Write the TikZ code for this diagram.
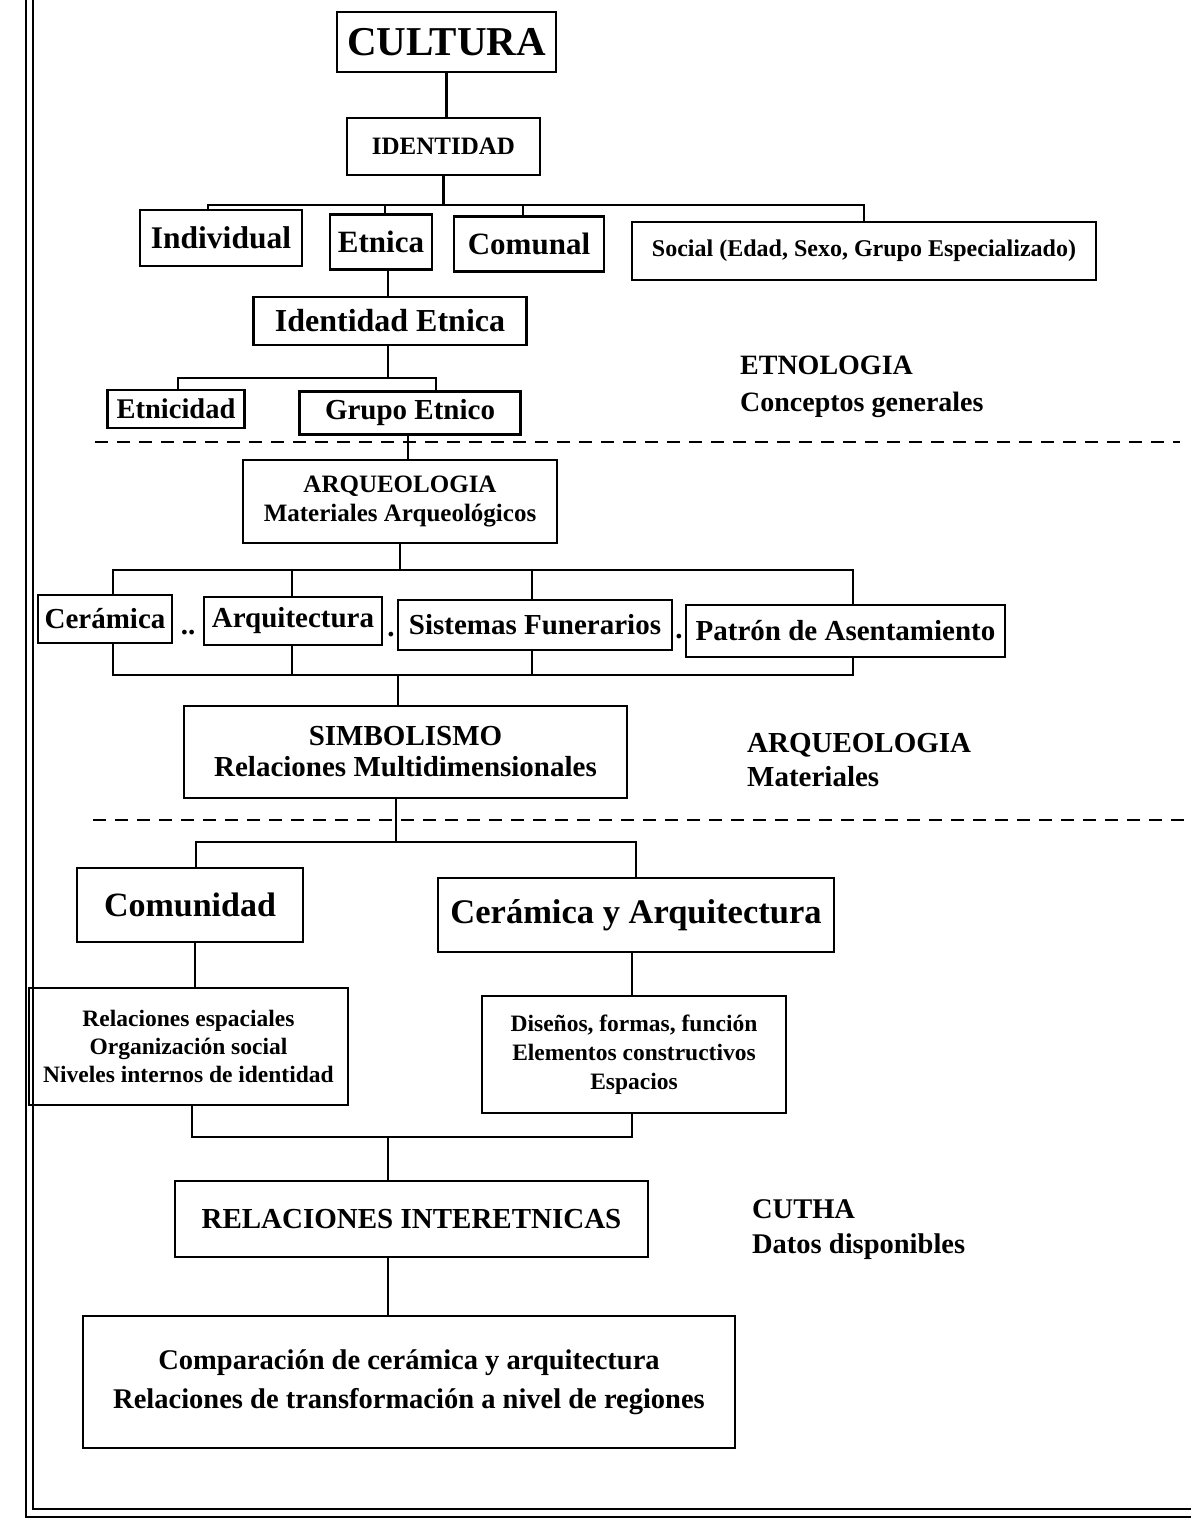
\documentclass[tikz,border=0pt]{standalone}
\usepackage{fontspec}
\setmainfont{Liberation Serif}
\newcommand{\fs}[2]{\fontsize{#1}{#2}\selectfont\bfseries}
\begin{document}
\begin{tikzpicture}[x=1pt,y=-1pt,
  line width=2.3pt,
  box/.style={draw, line width=2.6pt, inner sep=0pt, align=center},
  dashline/.style={line width=2.2pt, dash pattern=on 13pt off 9pt},
  lbl/.style={anchor=north west, align=left, inner sep=0pt}]
\useasboundingbox (0,0) rectangle (1191,1526);
% frame
\draw[line width=2.2pt] (26,0) -- (26,1517) -- (1191,1517);
\draw[line width=2.2pt] (33,0) -- (33,1509) -- (1191,1509);

% nodes
\node[box, minimum width=219pt, minimum height=60pt, font=\fs{41}{44}] (cultura) at (446.5,42) {CULTURA};
\node[box, minimum width=193pt, minimum height=57pt, font=\fs{25}{28}] (identidad) at (443.5,146.5) {IDENTIDAD};

\node[box, minimum width=162pt, minimum height=56pt, font=\fs{31.5}{34}] (individual) at (221,238) {Individual};
\node[box, minimum width=102pt, minimum height=55pt, font=\fs{31}{34}] (etnica) at (381,242) {Etnica};
\node[box, minimum width=150pt, minimum height=55pt, font=\fs{31}{34}] (comunal) at (529,244) {Comunal};
\node[box, minimum width=464pt, minimum height=58pt, font=\fs{24}{28}] (social) at (864,251) {Social (Edad, Sexo, Grupo Especializado)};

\node[box, minimum width=273pt, minimum height=48pt, font=\fs{32}{35}] (ie) at (390,321) {Identidad Etnica};

\node[box, minimum width=137pt, minimum height=38pt, font=\fs{28.5}{30}] (etnicidad) at (176,409) {Etnicidad};
\node[box, minimum width=221pt, minimum height=43pt, font=\fs{29}{30}] (grupo) at (410,413) {Grupo Etnico};

\node[box, minimum width=314pt, minimum height=83pt, font=\fs{25}{29}] (arq) at (400,501.5) {ARQUEOLOGIA\\Materiales Arqueológicos};

\node[box, minimum width=134pt, minimum height=48pt, font=\fs{29}{30}] (ceramica) at (105,619) {Cerámica};
\node[box, minimum width=178pt, minimum height=48pt, font=\fs{29}{30}] (arquitectura) at (293,621) {Arquitectura};
\node[box, minimum width=274pt, minimum height=50pt, font=\fs{29}{30}] (sistemas) at (535,625) {Sistemas Funerarios};
\node[box, minimum width=319pt, minimum height=52pt, font=\fs{29}{30}] (patron) at (845.5,631) {Patrón de Asentamiento};

\node[anchor=base, inner sep=0pt, font=\fs{29}{30}] (d1) at (188,634) {..};
\node[anchor=base, inner sep=0pt, font=\fs{29}{30}] (d2) at (391,636) {.};
\node[anchor=base, inner sep=0pt, font=\fs{29}{30}] (d3) at (679,638) {.};

\node[box, minimum width=443pt, minimum height=92pt, font=\fs{29}{31}] (simb) at (405.5,752) {SIMBOLISMO\\Relaciones Multidimensionales};

\node[box, minimum width=226pt, minimum height=74pt, font=\fs{34}{37}] (comunidad) at (190,905) {Comunidad};
\node[box, minimum width=396pt, minimum height=74pt, font=\fs{34.5}{37}] (cya) at (636,915) {Cerámica y Arquitectura};

\node[box, minimum width=319pt, minimum height=117pt, font=\fs{23.5}{28}] (relesp) at (188.5,1046.5) {Relaciones espaciales\\Organización social\\Niveles internos de identidad};
\node[box, minimum width=304pt, minimum height=117pt, font=\fs{23.5}{29}] (disenos) at (634,1054.5) {Diseños, formas, función\\Elementos constructivos\\Espacios};

\node[box, minimum width=473pt, minimum height=76pt, font=\fs{29}{31}] (relint) at (411.5,1219) {RELACIONES INTERETNICAS};

\node[box, minimum width=652pt, minimum height=132pt, font=\fs{28.5}{39}] (final) at (409,1382) {Comparación de cerámica y arquitectura\\Relaciones de transformación a nivel de regiones};

% side labels
\node[lbl, font=\fs{28}{37}] (etno) at (739,355) {ETNOLOGIA\\Conceptos generales};
\node[lbl, font=\fs{29}{34}] (arqmat) at (746,732) {ARQUEOLOGIA\\Materiales};
\node[lbl, font=\fs{28.5}{35}] (cutha) at (751,1198) {CUTHA\\Datos disponibles};

% dashed separators
\draw[dashline] (95,442) -- (1180,442);
\draw[dashline] (93,820) -- (1185,820);

% connectors
\draw (cultura.south) -- (cultura.south |- identidad.north);
\coordinate (b1) at (443.5,205);
\draw (identidad.south) -- (b1);
\draw ([xshift=-13pt]individual.north) |- (b1) -| (social.north);
\draw ([xshift=4pt]etnica.north) -- ([xshift=4pt]etnica.north |- b1);
\draw ([xshift=-6pt]comunal.north) -- ([xshift=-6pt]comunal.north |- b1);

\coordinate (b0) at (388,270);
\draw (b0 |- etnica.south) -- (b0 |- ie.north);

\coordinate (b2) at (388,378);
\draw (b2 |- ie.south) -- (b2);
\draw ([xshift=2pt]etnicidad.north) |- (b2) -| ([xshift=26pt]grupo.north);

\draw ([xshift=-2pt]grupo.south) -- ([xshift=-2pt]grupo.south |- arq.north);

\coordinate (b3) at (400,570);
\draw (arq.south) -- (b3);
\draw ([xshift=8pt]ceramica.north) |- (b3) -| ([xshift=7.5pt]patron.north);
\draw ([xshift=-1pt]arquitectura.north) -- ([xshift=-1pt]arquitectura.north |- b3);
\draw ([xshift=-3pt]sistemas.north) -- ([xshift=-3pt]sistemas.north |- b3);

\coordinate (b4) at (398,675);
\draw ([xshift=8pt]ceramica.south) |- (b4) -| ([xshift=7.5pt]patron.south);
\draw ([xshift=-1pt]arquitectura.south) -- ([xshift=-1pt]arquitectura.south |- b4);
\draw ([xshift=-3pt]sistemas.south) -- ([xshift=-3pt]sistemas.south |- b4);
\draw (b4) -- (b4 |- simb.north);

\coordinate (b5) at (396,842);
\draw (b5 |- simb.south) -- (b5);
\draw ([xshift=6pt]comunidad.north) |- (b5) -| (cya.north);

\draw ([xshift=5pt]comunidad.south) -- ([xshift=5pt]comunidad.south |- relesp.north);
\draw ([xshift=-4pt]cya.south) -- ([xshift=-4pt]cya.south |- disenos.north);

\coordinate (b6) at (388,1137);
\draw ([xshift=3.5pt]relesp.south) |- (b6) -| ([xshift=-2pt]disenos.south);
\draw (b6) -- (b6 |- relint.north);

\draw (b6 |- relint.south) -- (b6 |- final.north);
\end{tikzpicture}
\end{document}
